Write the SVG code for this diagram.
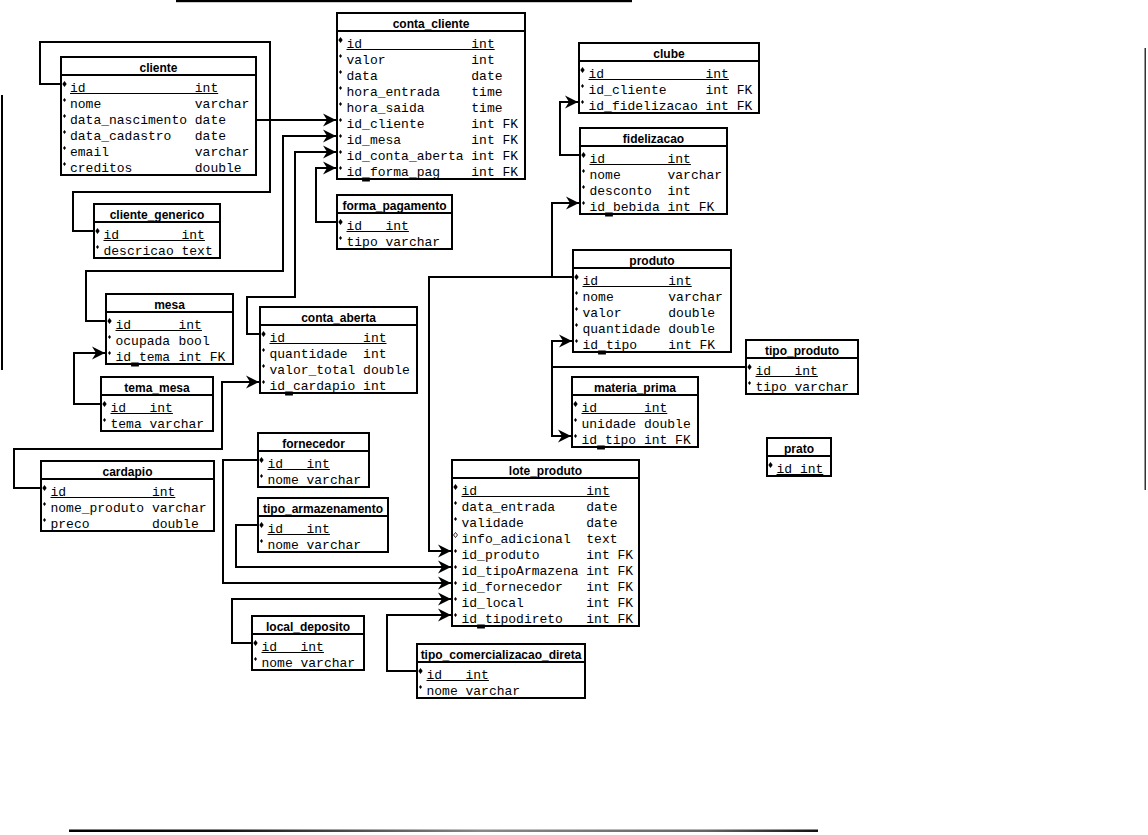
<svg xmlns="http://www.w3.org/2000/svg" width="1148" height="835" viewBox="0 0 1148 835">
<defs>
<style>
.box{fill:#fff;stroke:#000;stroke-width:2}
.hd{stroke:#000;stroke-width:2}
.t{font-family:"Liberation Sans",Arial,sans-serif;font-weight:bold;font-size:12px;text-anchor:middle;fill:#000}
.f{font-family:"Liberation Mono","Courier New",monospace;font-size:13px;fill:#000}
.u{stroke:#000;stroke-width:1}
.c{fill:none;stroke:#000;stroke-width:2}
.a{marker-end:url(#arrow)}
.us{fill:#000}
</style>
<marker id="arrow" markerUnits="userSpaceOnUse" markerWidth="14" markerHeight="14" viewBox="0 0 14 14" refX="13" refY="7" orient="auto">
<path d="M0,0.5 L13,7 L0,13.5 L4,7 Z" fill="#000"/>
</marker>
<path id="pk" d="M0,-3 L2.2,0 L0,3 L-2.2,0 Z"/>
<path id="nn" d="M0,-2 L1.5,0 L0,2 L-1.5,0 Z"/>
<path id="op" d="M0,-2.5 L2,0 L0,2.5 L-2,0 Z" fill="#fff" stroke="#000" stroke-width="0.8"/>
<linearGradient id="rule" x1="0" y1="0" x2="1" y2="0">
<stop offset="0" stop-color="#000"/>
<stop offset="0.2" stop-color="#111"/>
<stop offset="0.55" stop-color="#888"/>
<stop offset="0.85" stop-color="#666"/>
<stop offset="1" stop-color="#111"/>
</linearGradient>
</defs>
<rect x="0" y="0" width="1148" height="835" fill="#fff"/>

<!-- page rules -->
<g id="rules">
<rect x="176" y="0" width="456" height="2.2" fill="#000"/>
<rect x="1" y="95" width="2" height="275" fill="#000"/>
<rect x="1144.5" y="48" width="1.5" height="442" fill="#333"/>
<rect x="69" y="829.5" width="749" height="2.5" fill="url(#rule)"/>
</g>

<!-- relationships -->
<g id="connectors">
<path class="c" d="M61,84 H40 V42 H270 V192 H73 V231 H94"/>
<path class="c a" d="M256,120 H336"/>
<path class="c a" d="M106,321 H86 V271 H283 V136 H336"/>
<path class="c a" d="M260,334 H247 V297 H295 V152 H336"/>
<path class="c a" d="M337,222 H316 V168 H336"/>
<path class="c a" d="M580,155 H560 V102 H578"/>
<path class="c a" d="M573,277 H552 V203 H579"/>
<path class="c a" d="M573,277 H429 V551 H451"/>
<path class="c a" d="M746,367 H552 V341 H572"/>
<path class="c a" d="M746,367 H552 V436 H571"/>
<path class="c a" d="M41,488 H14 V449 H222 V382 H259"/>
<path class="c a" d="M101,404 H74 V353 H105"/>
<path class="c a" d="M258,460 H223 V583 H451"/>
<path class="c a" d="M258,525 H236 V567 H451"/>
<path class="c a" d="M252,643 H232 V599 H451"/>
<path class="c a" d="M417,671 H387 V615 H451"/>
</g>

<g id="cliente">
<rect class="box" x="61" y="57" width="195" height="118"/>
<line class="hd" x1="61" y1="75" x2="256" y2="75"/>
<text class="t" x="158.5" y="71.5">cliente</text>
<use href="#pk" x="64.5" y="84"/><text class="f" y="92"><tspan x="70">id</tspan><tspan x="194.8">int</tspan></text><line class="u" x1="70" y1="93.5" x2="218.2" y2="93.5"/>
<use href="#nn" x="64.5" y="100"/><text class="f" y="108"><tspan x="70">nome</tspan><tspan x="194.8">varchar</tspan></text>
<use href="#nn" x="64.5" y="116"/><text class="f" y="124"><tspan x="70">data_nascimento</tspan><tspan x="194.8">date</tspan></text>
<use href="#nn" x="64.5" y="132"/><text class="f" y="140"><tspan x="70">data_cadastro</tspan><tspan x="194.8">date</tspan></text>
<use href="#nn" x="64.5" y="148"/><text class="f" y="156"><tspan x="70">email</tspan><tspan x="194.8">varchar</tspan></text>
<use href="#nn" x="64.5" y="164"/><text class="f" y="172"><tspan x="70">creditos</tspan><tspan x="194.8">double</tspan></text>
</g>

<g id="conta_cliente">
<rect class="box" x="337" y="13" width="188" height="166"/>
<line class="hd" x1="337" y1="31" x2="525" y2="31"/>
<text class="t" x="431" y="27.5">conta_cliente</text>
<use href="#pk" x="340.5" y="40"/><text class="f" y="48"><tspan x="346.5">id</tspan><tspan x="471.3">int</tspan></text><line class="u" x1="346.5" y1="49.5" x2="494.7" y2="49.5"/>
<use href="#nn" x="340.5" y="56"/><text class="f" y="64"><tspan x="346.5">valor</tspan><tspan x="471.3">int</tspan></text>
<use href="#nn" x="340.5" y="72"/><text class="f" y="80"><tspan x="346.5">data</tspan><tspan x="471.3">date</tspan></text>
<use href="#nn" x="340.5" y="88"/><text class="f" y="96"><tspan x="346.5">hora_entrada</tspan><tspan x="471.3">time</tspan></text>
<use href="#nn" x="340.5" y="104"/><text class="f" y="112"><tspan x="346.5">hora_saida</tspan><tspan x="471.3">time</tspan></text>
<use href="#nn" x="340.5" y="120"/><text class="f" y="128"><tspan x="346.5">id_cliente</tspan><tspan x="471.3">int FK</tspan></text>
<use href="#nn" x="340.5" y="136"/><text class="f" y="144"><tspan x="346.5">id_mesa</tspan><tspan x="471.3">int FK</tspan></text>
<use href="#nn" x="340.5" y="152"/><text class="f" y="160"><tspan x="346.5">id_conta_aberta</tspan><tspan x="471.3">int FK</tspan></text>
<use href="#nn" x="340.5" y="168"/><text class="f" y="176"><tspan x="346.5">id_forma_pag</tspan><tspan x="471.3">int FK</tspan></text>
<rect class="us" x="362.1" y="179.5" width="7.8" height="2"/>
</g>

<g id="clube">
<rect class="box" x="579" y="43" width="180" height="70"/>
<line class="hd" x1="579" y1="61" x2="759" y2="61"/>
<text class="t" x="669" y="57.5">clube</text>
<use href="#pk" x="582.5" y="70"/><text class="f" y="78"><tspan x="588.5">id</tspan><tspan x="705.5">int</tspan></text><line class="u" x1="588.5" y1="79.5" x2="728.9" y2="79.5"/>
<use href="#nn" x="582.5" y="86"/><text class="f" y="94"><tspan x="588.5">id_cliente</tspan><tspan x="705.5">int FK</tspan></text>
<use href="#nn" x="582.5" y="102"/><text class="f" y="110"><tspan x="588.5">id_fidelizacao</tspan><tspan x="705.5">int FK</tspan></text>
</g>

<g id="fidelizacao">
<rect class="box" x="580" y="128" width="147" height="86"/>
<line class="hd" x1="580" y1="146" x2="727" y2="146"/>
<text class="t" x="653.5" y="142.5">fidelizacao</text>
<use href="#pk" x="583.5" y="155"/><text class="f" y="163"><tspan x="589.5">id</tspan><tspan x="667.5">int</tspan></text><line class="u" x1="589.5" y1="164.5" x2="690.9" y2="164.5"/>
<use href="#nn" x="583.5" y="171"/><text class="f" y="179"><tspan x="589.5">nome</tspan><tspan x="667.5">varchar</tspan></text>
<use href="#nn" x="583.5" y="187"/><text class="f" y="195"><tspan x="589.5">desconto</tspan><tspan x="667.5">int</tspan></text>
<use href="#nn" x="583.5" y="203"/><text class="f" y="211"><tspan x="589.5">id_bebida</tspan><tspan x="667.5">int FK</tspan></text>
<rect class="us" x="605.1" y="214.5" width="7.8" height="2"/>
</g>

<g id="cliente_generico">
<rect class="box" x="94" y="204" width="126" height="54"/>
<line class="hd" x1="94" y1="222" x2="220" y2="222"/>
<text class="t" x="157" y="218.5">cliente_generico</text>
<use href="#pk" x="97.5" y="231"/><text class="f" y="239"><tspan x="103.5">id</tspan><tspan x="181.5">int</tspan></text><line class="u" x1="103.5" y1="240.5" x2="204.9" y2="240.5"/>
<use href="#nn" x="97.5" y="247"/><text class="f" y="255"><tspan x="103.5">descricao</tspan><tspan x="181.5">text</tspan></text>
</g>

<g id="mesa">
<rect class="box" x="106" y="294" width="127" height="70"/>
<line class="hd" x1="106" y1="312" x2="233" y2="312"/>
<text class="t" x="169.5" y="308.5">mesa</text>
<use href="#pk" x="109.5" y="321"/><text class="f" y="329"><tspan x="115.5">id</tspan><tspan x="178.5">int</tspan></text><line class="u" x1="115.5" y1="330.5" x2="201.9" y2="330.5"/>
<use href="#nn" x="109.5" y="337"/><text class="f" y="345"><tspan x="115.5">ocupada</tspan><tspan x="178.5">bool</tspan></text>
<use href="#nn" x="109.5" y="353"/><text class="f" y="361"><tspan x="115.5">id_tema</tspan><tspan x="178.5">int FK</tspan></text>
<rect class="us" x="131.1" y="364.5" width="7.8" height="2"/>
</g>

<g id="tema_mesa">
<rect class="box" x="101" y="377" width="112" height="54"/>
<line class="hd" x1="101" y1="395" x2="213" y2="395"/>
<text class="t" x="157" y="391.5">tema_mesa</text>
<use href="#pk" x="104.5" y="404"/><text class="f" y="412"><tspan x="110.5">id</tspan><tspan x="149.5">int</tspan></text><line class="u" x1="110.5" y1="413.5" x2="172.9" y2="413.5"/>
<use href="#nn" x="104.5" y="420"/><text class="f" y="428"><tspan x="110.5">tema</tspan><tspan x="149.5">varchar</tspan></text>
</g>

<g id="forma_pagamento">
<rect class="box" x="337" y="195" width="115" height="54"/>
<line class="hd" x1="337" y1="213" x2="452" y2="213"/>
<text class="t" x="394.5" y="209.5">forma_pagamento</text>
<use href="#pk" x="340.5" y="222"/><text class="f" y="230"><tspan x="346.5">id</tspan><tspan x="385.5">int</tspan></text><line class="u" x1="346.5" y1="231.5" x2="408.9" y2="231.5"/>
<use href="#nn" x="340.5" y="238"/><text class="f" y="246"><tspan x="346.5">tipo</tspan><tspan x="385.5">varchar</tspan></text>
</g>

<g id="conta_aberta">
<rect class="box" x="260" y="307" width="157" height="86"/>
<line class="hd" x1="260" y1="325" x2="417" y2="325"/>
<text class="t" x="338.5" y="321.5">conta_aberta</text>
<use href="#pk" x="263.5" y="334"/><text class="f" y="342"><tspan x="269.5">id</tspan><tspan x="363.1">int</tspan></text><line class="u" x1="269.5" y1="343.5" x2="386.5" y2="343.5"/>
<use href="#nn" x="263.5" y="350"/><text class="f" y="358"><tspan x="269.5">quantidade</tspan><tspan x="363.1">int</tspan></text>
<use href="#nn" x="263.5" y="366"/><text class="f" y="374"><tspan x="269.5">valor_total</tspan><tspan x="363.1">double</tspan></text>
<use href="#nn" x="263.5" y="382"/><text class="f" y="390"><tspan x="269.5">id_cardapio</tspan><tspan x="363.1">int</tspan></text>
<rect class="us" x="285.1" y="393.5" width="7.8" height="2"/>
</g>

<g id="produto">
<rect class="box" x="573" y="250" width="158" height="102"/>
<line class="hd" x1="573" y1="268" x2="731" y2="268"/>
<text class="t" x="652" y="264.5">produto</text>
<use href="#pk" x="576.5" y="277"/><text class="f" y="285"><tspan x="582.5">id</tspan><tspan x="668.3">int</tspan></text><line class="u" x1="582.5" y1="286.5" x2="691.7" y2="286.5"/>
<use href="#nn" x="576.5" y="293"/><text class="f" y="301"><tspan x="582.5">nome</tspan><tspan x="668.3">varchar</tspan></text>
<use href="#nn" x="576.5" y="309"/><text class="f" y="317"><tspan x="582.5">valor</tspan><tspan x="668.3">double</tspan></text>
<use href="#nn" x="576.5" y="325"/><text class="f" y="333"><tspan x="582.5">quantidade</tspan><tspan x="668.3">double</tspan></text>
<use href="#nn" x="576.5" y="341"/><text class="f" y="349"><tspan x="582.5">id_tipo</tspan><tspan x="668.3">int FK</tspan></text>
<rect class="us" x="598.1" y="352.5" width="7.8" height="2"/>
</g>

<g id="materia_prima">
<rect class="box" x="572" y="377" width="126" height="70"/>
<line class="hd" x1="572" y1="395" x2="698" y2="395"/>
<text class="t" x="635" y="391.5">materia_prima</text>
<use href="#pk" x="575.5" y="404"/><text class="f" y="412"><tspan x="581.5">id</tspan><tspan x="643.9">int</tspan></text><line class="u" x1="581.5" y1="413.5" x2="667.3" y2="413.5"/>
<use href="#nn" x="575.5" y="420"/><text class="f" y="428"><tspan x="581.5">unidade</tspan><tspan x="643.9">double</tspan></text>
<use href="#nn" x="575.5" y="436"/><text class="f" y="444"><tspan x="581.5">id_tipo</tspan><tspan x="643.9">int FK</tspan></text>
<rect class="us" x="597.1" y="447.5" width="7.8" height="2"/>
</g>

<g id="tipo_produto">
<rect class="box" x="746" y="340" width="112" height="54"/>
<line class="hd" x1="746" y1="358" x2="858" y2="358"/>
<text class="t" x="802" y="354.5">tipo_produto</text>
<use href="#pk" x="749.5" y="367"/><text class="f" y="375"><tspan x="755.5">id</tspan><tspan x="794.5">int</tspan></text><line class="u" x1="755.5" y1="376.5" x2="817.9" y2="376.5"/>
<use href="#nn" x="749.5" y="383"/><text class="f" y="391"><tspan x="755.5">tipo</tspan><tspan x="794.5">varchar</tspan></text>
</g>

<g id="prato">
<rect class="box" x="767" y="438" width="64" height="38"/>
<line class="hd" x1="767" y1="456" x2="831" y2="456"/>
<text class="t" x="799" y="452.5">prato</text>
<use href="#pk" x="770.5" y="465"/><text class="f" y="473"><tspan x="776.5">id</tspan><tspan x="799.9">int</tspan></text><line class="u" x1="776.5" y1="474.5" x2="823.3" y2="474.5"/>
</g>

<g id="cardapio">
<rect class="box" x="41" y="461" width="173" height="70"/>
<line class="hd" x1="41" y1="479" x2="214" y2="479"/>
<text class="t" x="127.5" y="475.5">cardapio</text>
<use href="#pk" x="44.5" y="488"/><text class="f" y="496"><tspan x="50.5">id</tspan><tspan x="151.9">int</tspan></text><line class="u" x1="50.5" y1="497.5" x2="175.3" y2="497.5"/>
<use href="#nn" x="44.5" y="504"/><text class="f" y="512"><tspan x="50.5">nome_produto</tspan><tspan x="151.9">varchar</tspan></text>
<use href="#nn" x="44.5" y="520"/><text class="f" y="528"><tspan x="50.5">preco</tspan><tspan x="151.9">double</tspan></text>
</g>

<g id="fornecedor">
<rect class="box" x="258" y="433" width="111" height="54"/>
<line class="hd" x1="258" y1="451" x2="369" y2="451"/>
<text class="t" x="313.5" y="447.5">fornecedor</text>
<use href="#pk" x="261.5" y="460"/><text class="f" y="468"><tspan x="267.5">id</tspan><tspan x="306.5">int</tspan></text><line class="u" x1="267.5" y1="469.5" x2="329.9" y2="469.5"/>
<use href="#nn" x="261.5" y="476"/><text class="f" y="484"><tspan x="267.5">nome</tspan><tspan x="306.5">varchar</tspan></text>
</g>

<g id="tipo_armazenamento">
<rect class="box" x="258" y="498" width="130" height="54"/>
<line class="hd" x1="258" y1="516" x2="388" y2="516"/>
<text class="t" x="323" y="512.5">tipo_armazenamento</text>
<use href="#pk" x="261.5" y="525"/><text class="f" y="533"><tspan x="267.5">id</tspan><tspan x="306.5">int</tspan></text><line class="u" x1="267.5" y1="534.5" x2="329.9" y2="534.5"/>
<use href="#nn" x="261.5" y="541"/><text class="f" y="549"><tspan x="267.5">nome</tspan><tspan x="306.5">varchar</tspan></text>
</g>

<g id="local_deposito">
<rect class="box" x="252" y="616" width="112" height="54"/>
<line class="hd" x1="252" y1="634" x2="364" y2="634"/>
<text class="t" x="308" y="630.5">local_deposito</text>
<use href="#pk" x="255.5" y="643"/><text class="f" y="651"><tspan x="261.5">id</tspan><tspan x="300.5">int</tspan></text><line class="u" x1="261.5" y1="652.5" x2="323.9" y2="652.5"/>
<use href="#nn" x="255.5" y="659"/><text class="f" y="667"><tspan x="261.5">nome</tspan><tspan x="300.5">varchar</tspan></text>
</g>

<g id="lote_produto">
<rect class="box" x="452" y="460" width="187" height="166"/>
<line class="hd" x1="452" y1="478" x2="639" y2="478"/>
<text class="t" x="545.5" y="474.5">lote_produto</text>
<use href="#pk" x="455.5" y="487"/><text class="f" y="495"><tspan x="461.5">id</tspan><tspan x="586.3">int</tspan></text><line class="u" x1="461.5" y1="496.5" x2="609.7" y2="496.5"/>
<use href="#nn" x="455.5" y="503"/><text class="f" y="511"><tspan x="461.5">data_entrada</tspan><tspan x="586.3">date</tspan></text>
<use href="#nn" x="455.5" y="519"/><text class="f" y="527"><tspan x="461.5">validade</tspan><tspan x="586.3">date</tspan></text>
<use href="#op" x="455.5" y="535"/><text class="f" y="543"><tspan x="461.5">info_adicional</tspan><tspan x="586.3">text</tspan></text>
<use href="#nn" x="455.5" y="551"/><text class="f" y="559"><tspan x="461.5">id_produto</tspan><tspan x="586.3">int FK</tspan></text>
<use href="#nn" x="455.5" y="567"/><text class="f" y="575"><tspan x="461.5">id_tipoArmazena</tspan><tspan x="586.3">int FK</tspan></text>
<use href="#nn" x="455.5" y="583"/><text class="f" y="591"><tspan x="461.5">id_fornecedor</tspan><tspan x="586.3">int FK</tspan></text>
<use href="#nn" x="455.5" y="599"/><text class="f" y="607"><tspan x="461.5">id_local</tspan><tspan x="586.3">int FK</tspan></text>
<use href="#nn" x="455.5" y="615"/><text class="f" y="623"><tspan x="461.5">id_tipodireto</tspan><tspan x="586.3">int FK</tspan></text>
<rect class="us" x="477.1" y="626.5" width="7.8" height="2"/>
</g>

<g id="tipo_comercializacao_direta">
<rect class="box" x="417" y="644" width="168" height="54"/>
<line class="hd" x1="417" y1="662" x2="585" y2="662"/>
<text class="t" x="501" y="658.5">tipo_comercializacao_direta</text>
<use href="#pk" x="420.5" y="671"/><text class="f" y="679"><tspan x="426.5">id</tspan><tspan x="465.5">int</tspan></text><line class="u" x1="426.5" y1="680.5" x2="488.9" y2="680.5"/>
<use href="#nn" x="420.5" y="687"/><text class="f" y="695"><tspan x="426.5">nome</tspan><tspan x="465.5">varchar</tspan></text>
</g>
</svg>
